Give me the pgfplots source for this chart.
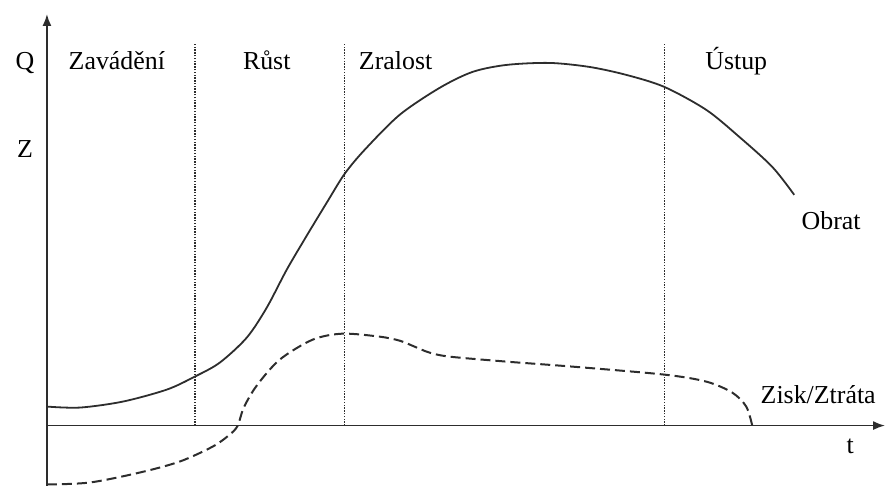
\documentclass[border=0pt]{standalone}
\usepackage{pgfplots}
\pgfplotsset{compat=1.18}
\usepackage{fontspec}
\setmainfont{Liberation Serif}
\usetikzlibrary{arrows.meta}
\definecolor{ink}{RGB}{45,45,45}

\begin{document}
\begin{tikzpicture}
\fontsize{26}{30}\selectfont
\begin{axis}[
    x=1bp, y=1bp,
    xmin=0, xmax=839,
    ymin=-60, ymax=412,
    axis lines=middle,
    axis line style={ink, line width=1.8bp, -{Latex[length=12bp,width=9bp]}},
    xtick=\empty, ytick=\empty,
    clip=false,
    every node/.style={text=ink, font=\fontsize{26}{30}\selectfont},
]
% phase borders
\addplot[ink, line width=1.4bp, dash pattern=on 1.4bp off 1.4bp] coordinates {(148,0) (148,383)};
\addplot[ink, line width=1.4bp, dash pattern=on 1.4bp off 1.4bp] coordinates {(298,0) (298,383)};
\addplot[ink, line width=1.4bp, dash pattern=on 1.4bp off 1.4bp] coordinates {(618,0) (618,383)};

% Obrat
\addplot[ink, line width=1.8bp, smooth] coordinates {
    (0,19) (33,18) (76,24) (120,36) (148,49) (173,63) (200,88) (220,118)
    (240,156) (260,190) (280,223) (298,252) (318,276) (353,311) (393,338)
    (426,354) (460,361) (503,363) (543,359) (580,351) (618,339) (660,316)
    (693,289) (726,259) (748,231)
};

% Zisk/Ztrata
\addplot[ink, line width=2bp, smooth, dash pattern=on 10bp off 5bp] coordinates {
    (0,-59) (43,-57) (93,-47) (133,-36) (166,-21) (183,-9) (191,0) (197,18)
    (210,40) (233,66) (266,86) (296,92) (333,89) (353,85) (368,79) (383,73)
    (403,69) (460,64) (526,59) (618,51) (660,44) (686,33) (700,19) (706,0)
};

\node[anchor=base] at (axis cs:-22,356) {Q};
\node[anchor=base] at (axis cs:-22,268) {Z};
\node[anchor=base] at (axis cs:70,356) {Zavádění};
\node[anchor=base] at (axis cs:220,356) {Růst};
\node[anchor=base] at (axis cs:349,356) {Zralost};
\node[anchor=base] at (axis cs:690,356) {Ústup};
\node[anchor=base] at (axis cs:785,196) {Obrat};
\node[anchor=base] at (axis cs:772,22) {Zisk/Ztráta};
\node[anchor=base] at (axis cs:804,-28) {t};

\path (axis cs:-47,-60) rectangle (axis cs:839,426);
\end{axis}
\end{tikzpicture}
\end{document}
